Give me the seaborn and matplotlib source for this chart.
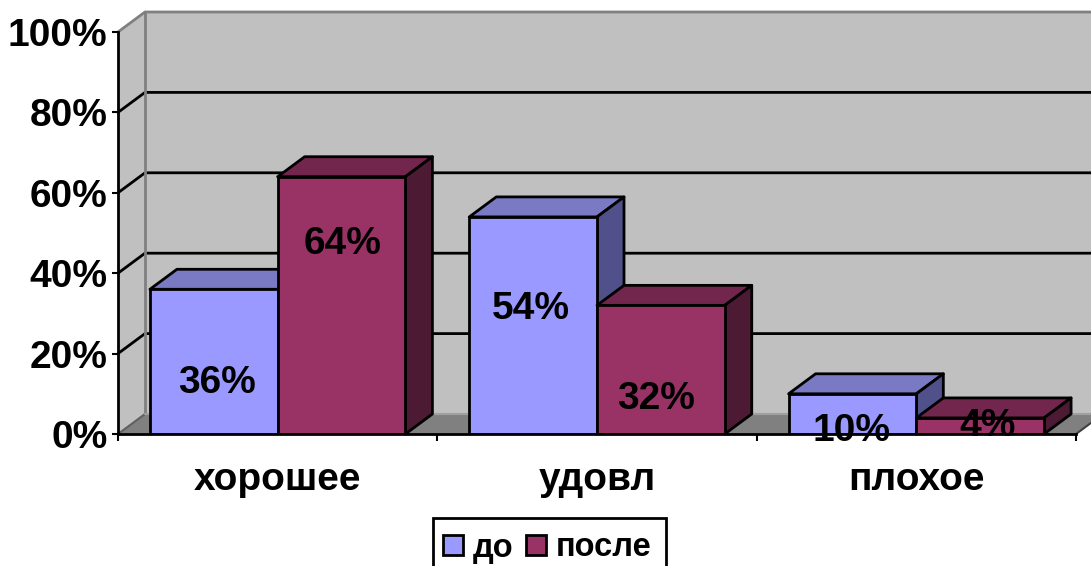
import matplotlib
matplotlib.use('Agg')
import pandas as pd
import seaborn as sns
import matplotlib.pyplot as plt
from matplotlib.patches import Patch, Polygon, Rectangle

categories = ['хорошее', 'удовл', 'плохое']
series_names = ['до', 'после']
before = [36, 54, 10]
after = [64, 32, 4]
y_ticks = [0, 20, 40, 60, 80, 100]

colors = {'до': '#9999FF', 'после': '#993366'}
top_colors = {'до': '#7A7AC4', 'после': '#73264D'}
side_colors = {'до': '#50508A', 'после': '#4D1A33'}
WALL = '#C0C0C0'
FLOOR = '#808080'
FONT = 28

W, H = 1091, 566
LEFT, RIGHT, BASE, CEIL = 118, 1076, 434, 32
DEPTH_PX = (27, 20)
# manual label nudges from bar top centre, pixels
label_nudges = {'до': [(3.5, -94), (-2, -92), (-1, -37)],
                'после': [(1, -67), (-4.5, -94), (7, -8)]}

sns.set_style('white')
plt.rcParams['font.family'] = ['Liberation Sans', 'DejaVu Sans']
plt.rcParams['font.weight'] = 'bold'
plt.rcParams['text.color'] = 'black'
plt.rcParams['xtick.labelcolor'] = 'black'
plt.rcParams['ytick.labelcolor'] = 'black'

df = pd.DataFrame({
    'category': categories * 2,
    'series': [series_names[0]] * 3 + [series_names[1]] * 3,
    'value': before + after,
})

fig = plt.figure(figsize=(W / 100, H / 100), dpi=100)
ax = fig.add_axes([LEFT / W, 1 - BASE / H, (RIGHT - LEFT) / W, (BASE - CEIL) / H])
sns.barplot(data=df, x='category', y='value', hue='series', palette=colors,
            saturation=1, gap=0, width=0.8, dodge=True, errorbar=None,
            legend=False, edgecolor='black', linewidth=2, ax=ax)
ax.set_xlim(-0.5, 2.5)
ax.set_ylim(0, 100)
ax.set_xlabel('')
ax.set_ylabel('')
ax.patch.set_visible(False)

# depth of the fake 3d box, in data units
dx = DEPTH_PX[0] * 3 / (RIGHT - LEFT)
dy = DEPTH_PX[1] * 100 / (BASE - CEIL)
x0, x1 = ax.get_xlim()


def poly(points, face, edge='none', lw=0, z=1):
    ax.add_patch(Polygon(points, closed=True, facecolor=face, edgecolor=edge,
                         linewidth=lw, zorder=z, clip_on=False, joinstyle='round'))


# walls and floor
poly([(x0 + dx, dy), (x1 + dx, dy), (x1 + dx, 100 + dy), (x0 + dx, 100 + dy)], WALL, z=0.1)
poly([(x0, 0), (x0 + dx, dy), (x0 + dx, 100 + dy), (x0, 100)], WALL, z=0.1)
poly([(x0, 0), (x1, 0), (x1 + dx, dy), (x0 + dx, dy)], FLOOR, z=0.2)

for t in y_ticks[1:]:
    c = FLOOR if t == 100 else 'black'
    ax.plot([x0, x0 + dx, x1 + dx], [t, t + dy, t + dy], color=c, lw=2,
            zorder=0.5, clip_on=False, solid_joinstyle='round')
ax.plot([x0 + dx, x0 + dx], [dy, 100 + dy], color=FLOOR, lw=2, zorder=0.6, clip_on=False)
ax.plot([x0, x0 + dx], [0, dy], color='#606060', lw=1.5, zorder=0.6, clip_on=False)
ax.plot([x1, x1 + dx], [0, dy], color='#404040', lw=1.5, zorder=0.6, clip_on=False)
ax.plot([x0 + dx, x1 + dx], [dy, dy], color='#A0A0A0', lw=1.5, zorder=0.6, clip_on=False)

# bars: front from seaborn, top and side faces worked out from each patch
bars = []
for name, container in zip(series_names, ax.containers):
    for i, bar in enumerate(container):
        bars.append((bar.get_x(), name, i, bar))
bars.sort(key=lambda b: b[0])

for n, (xl, name, i, bar) in enumerate(bars):
    xr = xl + bar.get_width()
    h = bar.get_height()
    z = 2 + n
    poly([(xl, h), (xr, h), (xr + dx, h + dy), (xl + dx, h + dy)],
         top_colors[name], 'black', 2, z)
    poly([(xr, 0), (xr + dx, dy), (xr + dx, h + dy), (xr, h)],
         side_colors[name], 'black', 2, z)
    bar.set_zorder(z + 0.5)
    nudge = label_nudges[name][i]
    ax.annotate(f'{h:.0f}%', xy=(xl + bar.get_width() / 2, h), xytext=nudge,
                xycoords='data', textcoords='offset pixels', ha='center', va='center',
                fontsize=FONT, fontweight='bold', color='black', zorder=50,
                annotation_clip=False)

ax.set_yticks(y_ticks)
ax.set_yticklabels([f'{t}%' for t in y_ticks])
ax.set_xticks([x0 + 0.5 + k for k in range(3)], labels=categories)
ax.tick_params(axis='y', length=4.5, width=1.5, color='black', labelsize=FONT, pad=3, left=True)
ax.tick_params(axis='x', length=0, labelsize=FONT, pad=20)
ax.set_xticks([x0 + k for k in range(4)], minor=True)
ax.tick_params(axis='x', which='minor', length=5, width=1.5, color='black', bottom=True)

sns.despine(ax=ax, top=True, right=True)
for side in ('left', 'bottom'):
    ax.spines[side].set_color('black')
    ax.spines[side].set_linewidth(2)
    ax.spines[side].set_zorder(1.5)
ax.spines['bottom'].set_zorder(60)

# legend box runs off the bottom of the picture
fig.add_artist(Rectangle((433 / W, -0.05), (666 - 433) / W, 1 - 518 / H + 0.05,
                         transform=fig.transFigure, facecolor='white',
                         edgecolor='black', linewidth=2))
handles = [Patch(facecolor=colors[s], edgecolor='black', linewidth=2, label=s) for s in series_names]
fig.legend(handles=handles, loc='center left', bbox_to_anchor=(443 / W, 1 - 548 / H),
           ncols=2, frameon=False, prop={'weight': 'bold', 'size': 23.5},
           handlelength=0.6, handleheight=0.6, handletextpad=0.3, columnspacing=0.4,
           borderpad=0, borderaxespad=0)

fig.savefig('out.png', dpi=100)
